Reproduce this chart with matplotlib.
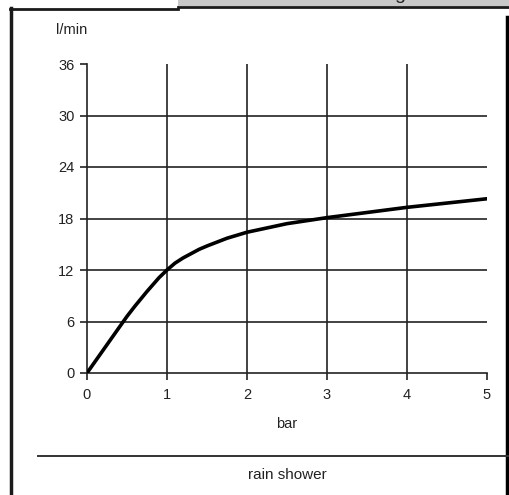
import matplotlib
matplotlib.use("Agg")
import matplotlib.pyplot as plt
from matplotlib.lines import Line2D
from matplotlib.patches import Rectangle

plt.rcParams['font.family'] = ['Liberation Sans', 'DejaVu Sans']

# Data
pressure_bar = [0, 0.25, 0.5, 0.6, 0.75, 0.9, 1.0, 1.1, 1.2, 1.3, 1.4, 1.5, 1.75, 2.0, 2.5, 3.0, 3.5, 4.0, 4.5, 5.0]
flow_lpm = [0, 3.3, 6.6, 7.8, 9.5, 11.1, 12.0, 12.8, 13.4, 13.9, 14.4, 14.8, 15.7, 16.4, 17.4, 18.1, 18.7, 19.3, 19.8, 20.3]
x_ticks = [0, 1, 2, 3, 4, 5]
y_ticks = [0, 6, 12, 18, 24, 30, 36]
y_unit = "l/min"
x_label = "bar"
caption = "rain shower"

W, H = 510, 495
fig = plt.figure(figsize=(W / 100, H / 100), dpi=100)

def fx(px):
    return px / W

def fy(py):
    return 1 - py / H

ax = fig.add_axes([fx(87), fy(373), fx(487) - fx(87), fy(64) - fy(373)])
ax.plot(pressure_bar, flow_lpm, color='black', lw=2.6, solid_capstyle='round',
        solid_joinstyle='round', zorder=3)
ax.set_xlim(0, 5)
ax.set_ylim(0, 36)
ax.set_xticks(x_ticks)
ax.set_yticks(y_ticks)
ax.set_xticklabels([str(t) for t in x_ticks])
ax.set_yticklabels([str(t) for t in y_ticks])
for s in ['top', 'right']:
    ax.spines[s].set_visible(False)
for s in ['left', 'bottom']:
    ax.spines[s].set_color('#222222')
    ax.spines[s].set_linewidth(1.2)
ax.tick_params(axis='both', direction='out', length=5, width=1.2, color='#222222',
               labelsize=10.5, labelcolor='#222222', pad=4)
ax.tick_params(axis='x', pad=6)
for t in x_ticks[1:-1]:
    ax.axvline(t, color='#222222', lw=1.2, zorder=1)
for t in y_ticks[1:-1]:
    ax.axhline(t, color='#222222', lw=1.2, zorder=1)

fig.text(fx(56), fy(30), y_unit, fontsize=10.5, color='#222222', va='center', ha='left')
fig.text(fx(287), fy(424), x_label, fontsize=10.5, color='#222222', va='center', ha='center')
fig.text(fx(287), fy(475), caption, fontsize=11, color='#222222', va='center', ha='center')

# Frame
fig.add_artist(Rectangle((fx(178), fy(6)), 1 - fx(178), fy(0) - fy(6), transform=fig.transFigure,
                         facecolor='#c8c8c8', edgecolor='none'))
fig.add_artist(Line2D([fx(178), 1], [fy(7), fy(7)], transform=fig.transFigure, color='#1a1a1a', lw=2))
fig.add_artist(Line2D([fx(10), fx(178)], [fy(9), fy(9)], transform=fig.transFigure, color='#1a1a1a', lw=2))
fig.add_artist(Line2D([fx(11), fx(11)], [fy(8), fy(495)], transform=fig.transFigure, color='#1a1a1a', lw=2.5))
fig.add_artist(Line2D([fx(507.5), fx(507.5)], [fy(17), fy(495)], transform=fig.transFigure, color='black', lw=2.5))
fig.add_artist(Line2D([fx(38), fx(508)], [fy(455.5), fy(455.5)], transform=fig.transFigure, color='#333333', lw=1.4))
fig.text(fx(400), fy(-1), "g", fontsize=14, color='#222222', ha='center', va='baseline')

fig.savefig("out.png", dpi=100)
